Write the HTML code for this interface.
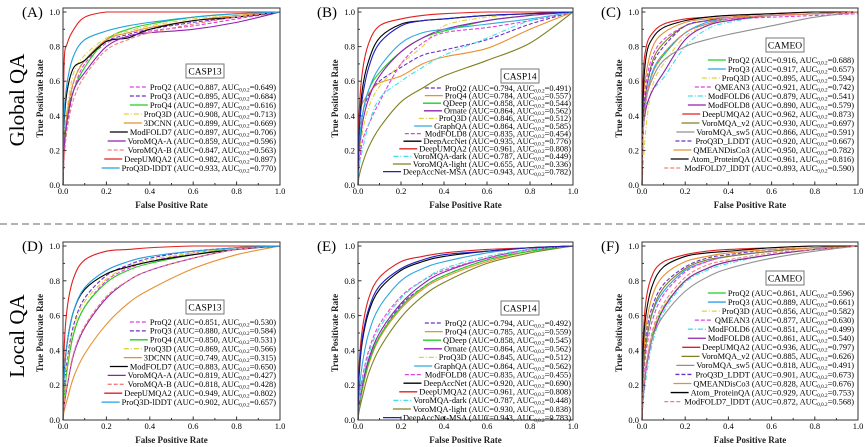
<!DOCTYPE html>
<html><head><meta charset="utf-8"><style>
html,body{margin:0;padding:0;background:#fff;}
svg{display:block;font-family:"Liberation Serif",serif;}
</style></head><body>
<svg id="fig" width="865" height="447" viewBox="0 0 865 447">
<line x1="0" y1="224" x2="865" y2="224" stroke="#999" stroke-width="1.5" stroke-dasharray="7,4"/>
<text transform="translate(24,100) rotate(-90)" text-anchor="middle" font-size="21">Global QA</text>
<text transform="translate(24,336) rotate(-90)" text-anchor="middle" font-size="21">Local QA</text>
</svg>
<script>
const fpr = [0,0.005,0.02,0.05,0.1,0.2,0.3,0.4,0.6,0.8,1];
const xTicks = ["0.0","0.2","0.4","0.6","0.8","1.0"];
const yTicks = ["0.0","0.2","0.4","0.6","0.8","1.0"];

const namesA = ["ProQ2","ProQ3","ProQ4","ProQ3D","3DCNN","ModFOLD7","VoroMQA-A","VoroMQA-B","DeepUMQA2","ProQ3D-lDDT"];
const aucA = ["0.887","0.895","0.897","0.908","0.899","0.897","0.859","0.847","0.982","0.933"];
const auc2A = ["0.649","0.684","0.616","0.713","0.669","0.706","0.596","0.563","0.897","0.770"];
const tprA = [
[0,0.15,0.35,0.55,0.7,0.82,0.86,0.89,0.92,0.96,1],
[0,0.2,0.4,0.6,0.72,0.83,0.87,0.9,0.94,0.97,1],
[0,0.2,0.4,0.55,0.68,0.84,0.9,0.93,0.97,0.99,1],
[0,0.25,0.45,0.65,0.75,0.85,0.89,0.92,0.96,0.98,1],
[0,0.2,0.42,0.6,0.72,0.84,0.88,0.91,0.95,0.98,1],
[0,0.35,0.55,0.68,0.72,0.83,0.85,0.9,0.95,0.97,1],
[0,0.2,0.38,0.55,0.65,0.8,0.86,0.88,0.9,0.94,1],
[0,0.15,0.33,0.5,0.63,0.78,0.84,0.88,0.93,0.97,1],
[0,0.7,0.82,0.9,0.97,1,1,1,1,1,1],
[0,0.4,0.6,0.75,0.84,0.89,0.92,0.94,0.97,0.99,1]];

const namesB = ["ProQ2","ProQ4","QDeep","Ornate","ProQ3D","GraphQA","ModFOLD8","DeepAccNet","DeepUMQA2","VoroMQA-dark","VoroMQA-light","DeepAccNet-MSA"];
const aucB = ["0.794","0.784","0.858","0.864","0.846","0.864","0.835","0.935","0.961","0.787","0.655","0.943"];
const auc2B = ["0.491","0.557","0.544","0.562","0.512","0.585","0.454","0.776","0.808","0.449","0.336","0.782"];
const tprB = [
[0,0.2,0.4,0.52,0.6,0.68,0.75,0.78,0.84,0.93,1],
[0,0.4,0.47,0.53,0.59,0.63,0.7,0.74,0.79,0.9,1],
[0,0.2,0.4,0.55,0.65,0.77,0.85,0.89,0.95,0.98,1],
[0,0.15,0.35,0.5,0.63,0.77,0.85,0.9,0.95,0.98,1],
[0,0.15,0.3,0.45,0.57,0.7,0.8,0.92,0.97,0.99,1],
[0,0.2,0.4,0.55,0.68,0.82,0.88,0.9,0.93,0.96,1],
[0,0.1,0.25,0.35,0.48,0.7,0.82,0.88,0.91,0.95,1],
[0,0.3,0.55,0.72,0.85,0.93,0.95,0.96,0.98,0.99,1],
[0,0.4,0.65,0.82,0.92,0.96,0.98,0.99,1,1,1],
[0,0.1,0.2,0.35,0.5,0.6,0.68,0.75,0.85,0.95,1],
[0,0.05,0.12,0.22,0.33,0.48,0.56,0.63,0.72,0.82,1],
[0,0.3,0.5,0.68,0.82,0.92,0.95,0.96,0.98,0.99,1]];

const namesC = ["ProQ2","ProQ3","ProQ3D","QMEAN3","ModFOLD6","ModFOLD8","DeepUMQA2","VoroMQA_v2","VoroMQA_sw5","ProQ3D_LDDT","QMEANDisCo3","Atom_ProteinQA","ModFOLD7_lDDT"];
const aucC = ["0.916","0.917","0.895","0.921","0.879","0.890","0.962","0.930","0.866","0.920","0.950","0.961","0.893"];
const auc2C = ["0.688","0.657","0.594","0.742","0.541","0.579","0.873","0.697","0.591","0.667","0.782","0.816","0.590"];
const tprC = [
[0,0.3,0.5,0.65,0.75,0.88,0.93,0.96,0.98,0.99,1],
[0,0.3,0.5,0.66,0.76,0.88,0.94,0.96,0.98,0.99,1],
[0,0.1,0.35,0.58,0.7,0.86,0.92,0.95,0.98,0.99,1],
[0,0.4,0.6,0.75,0.84,0.92,0.95,0.96,0.97,0.98,0.99],
[0,0.3,0.45,0.55,0.62,0.8,0.9,0.94,0.98,0.99,1],
[0,0.3,0.45,0.55,0.65,0.84,0.92,0.95,0.98,0.99,1],
[0,0.6,0.8,0.88,0.93,0.96,0.97,0.98,0.99,1,1],
[0,0.35,0.55,0.72,0.82,0.92,0.95,0.97,0.98,0.99,1],
[0,0.3,0.5,0.62,0.72,0.8,0.84,0.87,0.92,0.97,1],
[0,0.35,0.55,0.7,0.8,0.92,0.95,0.97,0.98,0.99,1],
[0,0.45,0.65,0.8,0.88,0.94,0.96,0.97,0.98,0.99,1],
[0,0.5,0.75,0.85,0.91,0.95,0.97,0.98,0.99,1,1],
[0,0.3,0.5,0.65,0.76,0.88,0.93,0.96,0.98,0.99,1]];

const aucD = ["0.851","0.880","0.850","0.869","0.749","0.883","0.819","0.818","0.949","0.902"];
const auc2D = ["0.530","0.584","0.531","0.566","0.315","0.650","0.427","0.428","0.802","0.657"];
const tprD = [
[0,0.12,0.3,0.5,0.65,0.8,0.87,0.91,0.96,0.99,1],
[0,0.15,0.35,0.55,0.7,0.83,0.89,0.93,0.97,0.99,1],
[0,0.12,0.3,0.5,0.65,0.79,0.86,0.9,0.95,0.99,1],
[0,0.14,0.33,0.53,0.68,0.81,0.88,0.92,0.96,0.99,1],
[0,0.05,0.12,0.25,0.38,0.55,0.67,0.75,0.87,0.95,1],
[0,0.25,0.45,0.63,0.75,0.84,0.88,0.91,0.95,0.98,1],
[0,0.08,0.2,0.38,0.53,0.7,0.8,0.86,0.93,0.98,1],
[0,0.09,0.21,0.39,0.54,0.71,0.8,0.86,0.93,0.98,1],
[0,0.4,0.65,0.82,0.92,0.97,0.98,0.99,1,1,1],
[0,0.25,0.45,0.63,0.76,0.86,0.91,0.94,0.97,0.99,1]];

const aucE = ["0.794","0.785","0.858","0.864","0.845","0.864","0.835","0.920","0.961","0.787","0.930","0.943"];
const auc2E = ["0.492","0.559","0.545","0.562","0.512","0.562","0.455","0.690","0.808","0.448","0.838","0.783"];
const tprE = [
[0,0.07,0.18,0.33,0.48,0.66,0.76,0.83,0.92,0.97,1],
[0,0.07,0.17,0.32,0.47,0.64,0.75,0.82,0.91,0.97,1],
[0,0.07,0.18,0.33,0.48,0.65,0.76,0.83,0.92,0.97,1],
[0,0.08,0.2,0.35,0.5,0.67,0.78,0.85,0.93,0.98,1],
[0,0.09,0.22,0.38,0.53,0.7,0.8,0.87,0.94,0.98,1],
[0,0.15,0.32,0.5,0.65,0.8,0.87,0.91,0.96,0.99,1],
[0,0.1,0.24,0.4,0.55,0.71,0.8,0.86,0.93,0.98,1],
[0,0.25,0.45,0.62,0.75,0.86,0.91,0.94,0.97,0.99,1],
[0,0.3,0.52,0.7,0.82,0.91,0.94,0.96,0.98,0.99,1],
[0,0.09,0.22,0.38,0.53,0.7,0.8,0.87,0.94,0.98,1],
[0,0.05,0.13,0.27,0.41,0.59,0.71,0.79,0.9,0.96,1],
[0,0.27,0.47,0.64,0.77,0.87,0.92,0.95,0.97,0.99,1]];

const aucF = ["0.861","0.889","0.856","0.877","0.851","0.861","0.936","0.885","0.818","0.901","0.828","0.929","0.872"];
const auc2F = ["0.596","0.661","0.582","0.630","0.499","0.540","0.797","0.626","0.491","0.673","0.676","0.753","0.568"];
const tprF = [
[0,0.15,0.32,0.5,0.65,0.8,0.87,0.91,0.95,0.98,1],
[0,0.25,0.45,0.62,0.74,0.86,0.91,0.94,0.97,0.99,1],
[0,0.15,0.32,0.5,0.65,0.8,0.87,0.91,0.95,0.98,1],
[0,0.2,0.4,0.58,0.72,0.85,0.91,0.94,0.97,0.99,1],
[0,0.1,0.25,0.45,0.62,0.79,0.86,0.9,0.95,0.98,1],
[0,0.12,0.3,0.48,0.64,0.8,0.87,0.91,0.95,0.98,1],
[0,0.45,0.7,0.84,0.91,0.95,0.97,0.98,0.99,1,1],
[0,0.25,0.45,0.63,0.76,0.87,0.92,0.94,0.97,0.99,1],
[0,0.15,0.32,0.48,0.6,0.74,0.82,0.87,0.93,0.97,1],
[0,0.28,0.5,0.66,0.78,0.88,0.93,0.95,0.98,0.99,1],
[0,0.3,0.55,0.72,0.83,0.91,0.94,0.96,0.98,0.99,1],
[0,0.4,0.62,0.78,0.88,0.94,0.96,0.97,0.99,1,1],
[0,0.15,0.32,0.52,0.67,0.82,0.89,0.92,0.96,0.98,1]];

const ST = {
 "ProQ2":["#e040e0","4,2"],"ProQ3":["#6a30c8","4,2"],"ProQ4":["#22cc22",""],"ProQ3D":["#e0d040","5,2,1,2"],
 "3DCNN":["#e89030",""],"ModFOLD7":["#000",""],"VoroMQA-A":["#9020b0",""],"VoroMQA-B":["#f08080","4,2"],
 "DeepUMQA2":["#e02020",""],"ProQ3D-lDDT":["#20a0e0",""],"QDeep":["#22cc22",""],"Ornate":["#9020b0",""],
 "GraphQA":["#30a8e0",""],"ModFOLD8":["#e040e0","4,2"],"DeepAccNet":["#000",""],"VoroMQA-dark":["#40e0e8","5,2,1,2"],
 "VoroMQA-light":["#808020",""],"DeepAccNet-MSA":["#2020c0",""],"QMEAN3":["#e040e0","4,2"],"ModFOLD6":["#40e0e8","5,2,1,2"],
 "VoroMQA_v2":["#808020",""],"VoroMQA_sw5":["#909090",""],"ProQ3D_LDDT":["#6a30c8","4,2"],"QMEANDisCo3":["#e89030",""],
 "Atom_ProteinQA":["#000",""],"ModFOLD7_lDDT":["#f08080","4,2"]
};
const STB = Object.assign({},ST,{"ProQ2":["#6a30c8","4,2"],"ProQ4":["#e89030",""]});
const STC = Object.assign({},ST,{"ProQ2":["#22cc22",""],"ProQ3":["#30a0e8",""],"ModFOLD8":["#9020b0",""]});

const NS="http://www.w3.org/2000/svg";
const svg=document.getElementById('fig');
function mk(tag,attrs,parent){const e=document.createElementNS(NS,tag);for(const k in attrs)e.setAttribute(k,attrs[k]);(parent||svg).appendChild(e);return e;}

function panel(p){
 const g=mk('g',{});
 
 
 const X=v=>p.x0+(p.x1-p.x0)*v, Y=v=>p.yb-(p.yb-p.yt)*v;
 const lt=mk('text',{x:p.x0-41,y:p.yt+5,'font-size':15},g);lt.textContent='('+p.id+')';
 
 
 p.tpr.forEach((arr,i)=>{
  const st=p.st[p.names[i]];
  const pts=fpr.map((f,j)=>[X(f),Y(arr[j])]);
  let d='M'+pts[0][0]+','+pts[0][1];
  for(let j=0;j<pts.length-1;j++){
   const p0=pts[Math.max(0,j-1)],p1=pts[j],p2=pts[j+1],p3=pts[Math.min(pts.length-1,j+2)];
   let c1y=p1[1]+(p2[1]-p0[1])/6,c2y=p2[1]-(p3[1]-p1[1])/6;
   c1y=Math.max(Math.min(c1y,Math.max(p1[1],p2[1])),Math.min(p1[1],p2[1]));
   c2y=Math.max(Math.min(c2y,Math.max(p1[1],p2[1])),Math.min(p1[1],p2[1]));
   d+=' C'+(p1[0]+(p2[0]-p0[0])/6)+','+c1y+' '+(p2[0]-(p3[0]-p1[0])/6)+','+c2y+' '+p2[0]+','+p2[1];
  }
  const c=mk('path',{d:d,fill:'none',stroke:st[0],'stroke-width':1.1,'stroke-dasharray':st[1]},g);
  
  
 });
 const fr=mk('rect',{x:p.x0,y:p.ft,width:p.x1-p.x0,height:p.yb-p.ft,fill:'none',stroke:'#333','stroke-width':1},g);
 
 
 for(let k=0;k<=10;k++){
  const len=k%2?2:3.5;
  mk('line',{x1:X(k/10),x2:X(k/10),y1:p.yb,y2:p.yb-len,stroke:'#333'},g);
  mk('line',{x1:p.x0,x2:p.x0+len,y1:Y(k/10),y2:Y(k/10),stroke:'#333'},g);
 }
 xTicks.forEach((t,k)=>{const e=mk('text',{x:X(k/5),y:p.yb+9,'font-size':8.5,'text-anchor':'middle'},g);e.textContent=t;
  
  });
 yTicks.forEach((t,k)=>{const e=mk('text',{x:p.x0-3,y:Y(k/5)+3,'font-size':8.5,'text-anchor':'end'},g);e.textContent=t;
  
  });
 const xt=mk('text',{x:(p.x0+p.x1)/2,y:p.yb+23,'font-size':9,'font-weight':'bold','text-anchor':'middle',fill:'#222'},g);xt.textContent='False Positive Rate';
 
 
 const yt=mk('text',{transform:`translate(${p.x0-20},${(p.yt+p.yb)/2}) rotate(-90)`,'font-size':9,'font-weight':'bold','text-anchor':'middle',fill:'#222'},g);yt.textContent='True Positivate Rate';
 
 
 const bx=mk('rect',{x:p.bx-19,y:p.by-7,width:38,height:14,fill:'#fff',stroke:'#777','stroke-width':1},g);
 
 
 const bt=mk('text',{x:p.bx,y:p.by+3.5,'font-size':9.5,'text-anchor':'middle'},g);bt.textContent=p.label;
 
 
 p.names.forEach((n,i)=>{
  const y=p.ly+i*p.ls;
  const t=mk('text',{x:p.lx,y:y+2.8,'font-size':8.4,'text-anchor':'end'},g);
  
  
  mk('tspan',{},t).textContent=n+' (AUC='+p.auc[i]+', AUC';
  mk('tspan',{'font-size':5.2,dy:1.5},t).textContent='0,0.2';
  mk('tspan',{dy:-1.5},t).textContent='='+p.auc2[i]+')';
  const w=t.getComputedTextLength();
  const st=p.st[n];
  const ln=mk('line',{x1:p.lx-w-20,x2:p.lx-w-2,y1:y,y2:y,stroke:st[0],'stroke-width':1.3,'stroke-dasharray':st[1]},g);
  
  
 });
}
const topRow={yt:12,yb:185,ft:8}, botRow={yt:246,yb:420,ft:242};
panel(Object.assign({id:'A',x0:63,x1:280,names:namesA,auc:aucA,auc2:auc2A,tpr:tprA,st:ST,label:'CASP13',bx:205,by:71,lx:276,ly:87,ls:9},topRow));
panel(Object.assign({id:'B',x0:358,x1:573,names:namesB,auc:aucB,auc2:auc2B,tpr:tprB,st:STB,label:'CASP14',bx:520,by:76,lx:571,ly:88,ls:7.6},topRow));
panel(Object.assign({id:'C',x0:642,x1:858,names:namesC,auc:aucC,auc2:auc2C,tpr:tprC,st:STC,label:'CAMEO',bx:785,by:45,lx:854,ly:60,ls:9},topRow));
panel(Object.assign({id:'D',x0:63,x1:280,names:namesA,auc:aucD,auc2:auc2D,tpr:tprD,st:ST,label:'CASP13',bx:205,by:307,lx:276,ly:322,ls:8.9},botRow));
panel(Object.assign({id:'E',x0:358,x1:573,names:namesB,auc:aucE,auc2:auc2E,tpr:tprE,st:STB,label:'CASP14',bx:520,by:308,lx:571,ly:323,ls:8.6},botRow));
panel(Object.assign({id:'F',x0:642,x1:858,names:namesC,auc:aucF,auc2:auc2F,tpr:tprF,st:STC,label:'CAMEO',bx:785,by:278,lx:854,ly:293,ls:9.05},botRow));
</script>
</body></html>
